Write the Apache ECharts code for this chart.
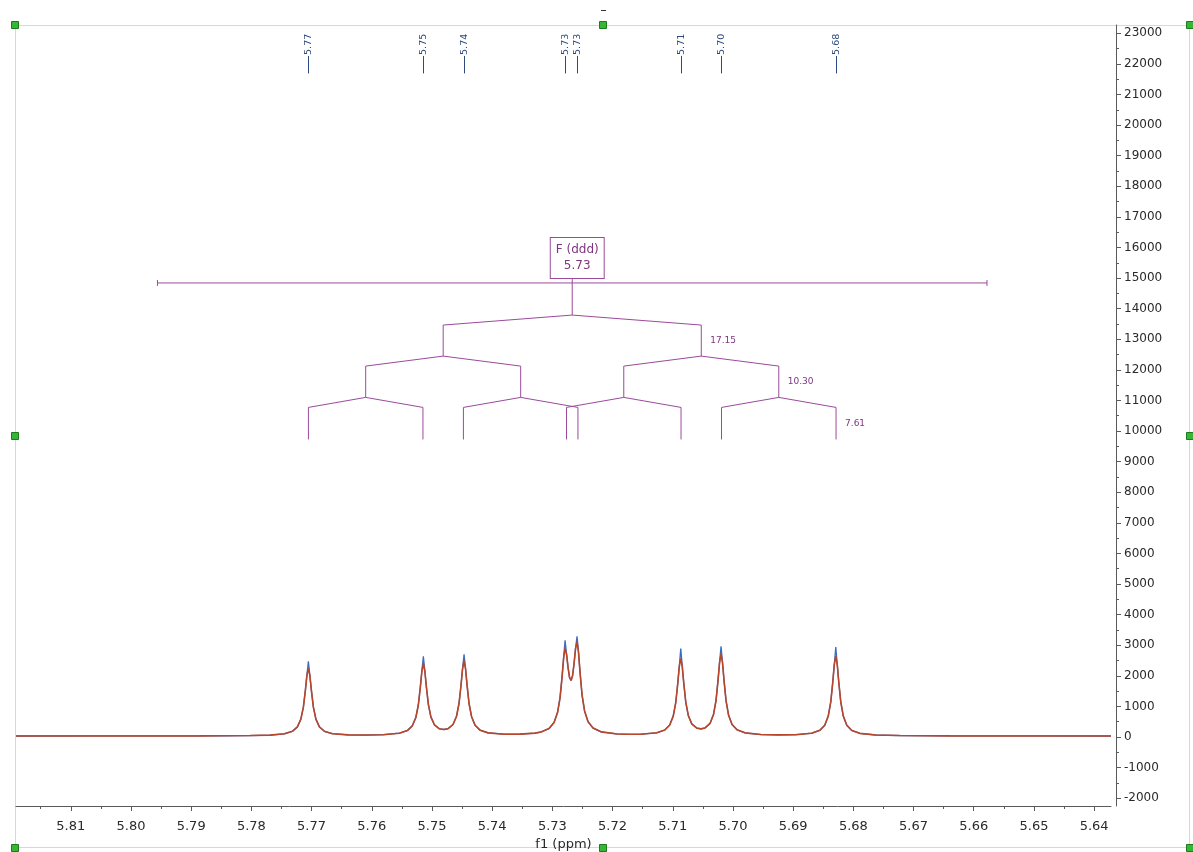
<!DOCTYPE html>
<html>
<head>
<meta charset="utf-8">
<script src="https://cdn.jsdelivr.net/npm/echarts@6/dist/echarts.min.js"></script>
<style>
html,body{margin:0;padding:0;background:#ffffff;}
#chart{width:1193px;height:852px;}
</style>
</head>
<body>
<div id="chart"></div>
<script>
// ---------------- DATA ----------------
// chemical shift of each sample point (ppm, descending)
const ppm = [
  5.8191, 5.80513, 5.79683, 5.78852, 5.78520, 5.78022, 5.77689,
  5.77452, 5.77319, 5.77236, 5.77178, 5.77136, 5.77103, 5.77078, 5.77053,
  5.77028, 5.77003, 5.76970, 5.76928, 5.76870, 5.76787, 5.76654,
  5.76389, 5.76111,
  5.75808, 5.75542, 5.75409, 5.75326, 5.75268, 5.75226, 5.75193, 5.75168, 5.75143,
  5.75118, 5.75093, 5.75060, 5.75018, 5.74960, 5.74877,
  5.74805,
  5.74733, 5.74650, 5.74592, 5.74550, 5.74517, 5.74492, 5.74467,
  5.74442, 5.74417, 5.74384, 5.74342, 5.74284, 5.74201, 5.74068, 5.73803,
  5.73537, 5.73287,
  5.73188, 5.73055, 5.72972, 5.72914, 5.72872, 5.72839, 5.72814, 5.72789,
  5.72764, 5.72739, 5.72714, 5.72689, 5.72665, 5.72640, 5.72615, 5.72590,
  5.72565, 5.72540, 5.72507, 5.72465, 5.72407, 5.72324, 5.72191, 5.71926,
  5.71709,
  5.71532, 5.71266, 5.71133, 5.71050, 5.70992, 5.70950, 5.70917, 5.70892, 5.70867,
  5.70842, 5.70817, 5.70784, 5.70742, 5.70684, 5.70601,
  5.70532,
  5.70464, 5.70381, 5.70323, 5.70281, 5.70248, 5.70223, 5.70198,
  5.70173, 5.70148, 5.70115, 5.70073, 5.70015, 5.69932, 5.69799, 5.69534,
  5.69251,
  5.68957, 5.68691, 5.68558, 5.68475, 5.68417, 5.68375, 5.68342, 5.68317, 5.68292,
  5.68267, 5.68242, 5.68209, 5.68167, 5.68109, 5.68026, 5.67893, 5.67628,
  5.67224, 5.66394, 5.65065, 5.6372
];
// fitted (red-brown) trace intensity
const fitIntensity = [
  32, 33, 33, 36, 39, 46, 62,
  104, 185, 329, 582, 974, 1520, 2004, 2243,
  2005, 1521, 975, 583, 330, 187, 107,
  69, 63,
  75, 123, 210, 365, 636, 1053, 1633, 2146, 2401,
  2149, 1641, 1067, 657, 398, 268,
  244,
  271, 408, 677, 1103, 1699, 2228, 2492,
  2228, 1696, 1094, 662, 382, 222, 134, 91,
  92, 127,
  163, 278, 472, 798, 1287, 1958, 2558, 2895,
  2703, 2265, 1941, 1847, 1998, 2385, 2887, 3113,
  2756, 2107, 1379, 850, 499, 291, 168, 99,
  87,
  91, 137, 228, 393, 682, 1127, 1747, 2294, 2567,
  2299, 1755, 1142, 704, 428, 290,
  264,
  296, 443, 735, 1199, 1848, 2423, 2706,
  2419, 1840, 1186, 714, 409, 234, 135, 80,
  68,
  75, 123, 216, 385, 683, 1146, 1790, 2360, 2641,
  2359, 1789, 1145, 682, 383, 213, 118, 65,
  46, 36, 33, 32
];
// measured spectrum (blue) intensity
const spectrumIntensity = [
  32, 33, 33, 36, 39, 46, 62,
  104, 185, 329, 582, 974, 1520, 2004, 2475,
  2005, 1521, 975, 583, 330, 187, 107,
  69, 63,
  75, 123, 210, 365, 636, 1053, 1633, 2146, 2639,
  2149, 1641, 1067, 657, 398, 268,
  244,
  271, 408, 677, 1103, 1699, 2228, 2704,
  2228, 1696, 1094, 662, 382, 222, 134, 91,
  92, 127,
  163, 278, 472, 798, 1287, 1958, 2558, 3162,
  2703, 2265, 1941, 1847, 1998, 2385, 2887, 3293,
  2756, 2107, 1379, 850, 499, 291, 168, 99,
  87,
  91, 137, 228, 393, 682, 1127, 1747, 2294, 2891,
  2299, 1755, 1142, 704, 428, 290,
  264,
  296, 443, 735, 1199, 1848, 2423, 2966,
  2419, 1840, 1186, 714, 409, 234, 135, 80,
  68,
  75, 123, 216, 385, 683, 1146, 1790, 2360, 2943,
  2359, 1789, 1145, 682, 383, 213, 118, 65,
  46, 36, 33, 32
];
// picked peaks (ppm)
const peakPpm = [5.77053, 5.75143, 5.74467, 5.72789, 5.72590, 5.70867, 5.70198, 5.68292];
// multiplet analysis
const multipletName = 'F (ddd)';
const multipletCenter = 5.7267;
const couplingsHz = [17.15, 10.30, 7.61];
const spectrometerMHz = 400;
const multipletRange = [5.7956, 5.6578];
// axis tick labels
const xTickLabels = ['5.81','5.80','5.79','5.78','5.77','5.76','5.75','5.74','5.73','5.72','5.71','5.70','5.69','5.68','5.67','5.66','5.65','5.64'];
const yTickLabels = [23000,22000,21000,20000,19000,18000,17000,16000,15000,14000,13000,12000,11000,10000,9000,8000,7000,6000,5000,4000,3000,2000,1000,0,-1000,-2000];

// ---------------- LAYOUT / STYLE ----------------
const XMIN = 5.6372, XMAX = 5.8191;
const YMIN = -2256, YMAX = 23271;
const FONT = '"DejaVu Sans", Verdana, sans-serif';
const AXIS_COLOR = '#5a5a5a';
const LABEL_COLOR = '#2a2a2a';
const TREE_COLOR = '#9b4a9b';
const TREE_TEXT = '#7e3580';
const PEAK_COLOR = '#2c4a7c';
const FIT_COLOR = '#b8462a';
const SPEC_COLOR = '#3c6cc0';

const BAR_Y = 14840;       // integration range bar
const BOX_Y = 15654;       // label box centre
const STEM_TOP = 14993;    // box bottom
const LEVELS = [
  {top: 13790, slant: 13463, bottom: 12449},
  {top: 12449, slant: 12122, bottom: 11099},
  {top: 11099, slant: 10772, bottom: 9725}
];
const PEAK_LINE_BOTTOM = 21688;
const PEAK_LINE_TOP = 22260;

const xMajor = xTickLabels.map(Number);
const xMinor = xMajor.map(v => +(v + 0.005).toFixed(3)).filter(v => v > XMIN && v < XMAX);
const yMinor = yTickLabels.slice(0, -1).map(v => v - 500);

function zip(a, b) { return a.map((v, i) => [v, b[i]]); }

// build splitting tree from couplings
function buildTree() {
  const segs = [];
  segs.push([[multipletRange[0], BAR_Y], [multipletRange[1], BAR_Y]]);
  segs.push([[multipletCenter, STEM_TOP], [multipletCenter, LEVELS[0].top]]);
  let nodes = [multipletCenter];
  const labels = [];
  couplingsHz.forEach((J, k) => {
    const L = LEVELS[k];
    const half = J / 2 / spectrometerMHz;
    const next = [];
    nodes.forEach(c => {
      [c + half, c - half].forEach(ch => {
        segs.push([[c, L.top], [ch, L.slant], [ch, L.bottom]]);
        next.push(ch);
      });
    });
    labels.push({x: Math.min.apply(null, next), y: (L.slant + L.bottom) / 2, text: J.toFixed(2)});
    nodes = next;
  });
  return {segs, labels};
}
const tree = buildTree();

const chart = echarts.init(document.getElementById('chart'), null, {renderer: 'canvas'});

const handlePts = [[15,25],[603,25],[1190,25],[15,436],[1190,436],[15,848],[603,848],[1190,848]];
const graphics = [
  {type: 'rect', z: 0, silent: true, shape: {x: 15.5, y: 25.5, width: 1174, height: 822},
   style: {fill: 'none', stroke: '#d8d8d8', lineWidth: 1}},
  {type: 'line', z: 50, silent: true, shape: {x1: 601, y1: 10.5, x2: 606, y2: 10.5},
   style: {stroke: '#333', lineWidth: 1}}
].concat(handlePts.map(p => ({
  type: 'rect', z: 60, silent: true,
  shape: {x: p[0] - 3.5, y: p[1] - 3.5, width: 7, height: 7},
  style: {fill: '#35b735', stroke: '#1f7a1f', lineWidth: 1}
})));

const option = {
  animation: false,
  backgroundColor: '#ffffff',
  textStyle: {fontFamily: FONT},
  grid: {left: 16, right: 82, top: 25, bottom: 46, containLabel: false, outerBoundsMode: 'none'},
  graphic: graphics,
  xAxis: [
    {
      type: 'value', min: XMIN, max: XMAX, inverse: true, position: 'bottom',
      name: 'f1 (ppm)', nameLocation: 'middle', nameGap: 24,
      nameTextStyle: {fontSize: 13, color: LABEL_COLOR, fontFamily: FONT},
      axisLine: {show: true, onZero: false, lineStyle: {color: AXIS_COLOR, width: 1}},
      axisTick: {show: true, customValues: xMajor, length: 5, lineStyle: {color: AXIS_COLOR}},
      axisLabel: {show: true, customValues: xMajor, formatter: v => v.toFixed(2),
        fontSize: 13, color: LABEL_COLOR, fontFamily: FONT, margin: 14},
      splitLine: {show: false}
    },
    {
      type: 'value', min: XMIN, max: XMAX, inverse: true, position: 'bottom',
      axisLine: {show: false, onZero: false},
      axisTick: {show: true, customValues: xMinor, length: 3, lineStyle: {color: AXIS_COLOR}},
      axisLabel: {show: false},
      splitLine: {show: false}
    }
  ],
  yAxis: [
    {
      type: 'value', min: YMIN, max: YMAX, position: 'right', offset: 5,
      axisLine: {show: true, onZero: false, lineStyle: {color: AXIS_COLOR, width: 1}},
      axisTick: {show: true, customValues: yTickLabels, length: 5, lineStyle: {color: AXIS_COLOR}},
      axisLabel: {show: true, customValues: yTickLabels, formatter: v => String(Math.round(v)),
        fontSize: 12, color: LABEL_COLOR, fontFamily: FONT, margin: 8},
      splitLine: {show: false}
    },
    {
      type: 'value', min: YMIN, max: YMAX, position: 'right', offset: 5,
      axisLine: {show: false, onZero: false},
      axisTick: {show: true, customValues: yMinor, length: 3, lineStyle: {color: AXIS_COLOR}},
      axisLabel: {show: false},
      splitLine: {show: false}
    }
  ],
  series: [
    {
      name: 'spectrum', type: 'line', xAxisIndex: 0, yAxisIndex: 0,
      data: zip(ppm, spectrumIntensity), showSymbol: false, symbol: 'none',
      lineStyle: {color: SPEC_COLOR, width: 1.3}, z: 2, silent: true, clip: true
    },
    {
      name: 'fit', type: 'line', xAxisIndex: 0, yAxisIndex: 0,
      data: zip(ppm, fitIntensity), showSymbol: false, symbol: 'none',
      lineStyle: {color: FIT_COLOR, width: 1.6}, z: 3, silent: true, clip: true
    },
    {
      name: 'peaks', type: 'custom', xAxisIndex: 0, yAxisIndex: 0, silent: true, z: 4,
      data: peakPpm.map(v => [v, 0]),
      renderItem: (params, api) => {
        const x = api.value(0);
        const a = api.coord([x, PEAK_LINE_BOTTOM]);
        const b = api.coord([x, PEAK_LINE_TOP]);
        return {
          type: 'group',
          children: [
            {type: 'line', shape: {x1: Math.round(a[0]) + 0.5, y1: a[1], x2: Math.round(b[0]) + 0.5, y2: b[1]},
             style: {stroke: PEAK_COLOR, lineWidth: 1}},
            {type: 'text', x: Math.round(b[0]) + 0.5, y: b[1] - 1, rotation: Math.PI / 2,
             style: {text: x.toFixed(2), fill: PEAK_COLOR, font: '9.5px ' + FONT,
                     align: 'left', verticalAlign: 'middle'}}
          ]
        };
      }
    },
    {
      name: 'multiplet', type: 'custom', xAxisIndex: 0, yAxisIndex: 0, silent: true, z: 5,
      data: [[multipletCenter, BAR_Y]],
      renderItem: (params, api) => {
        const children = [];
        tree.segs.forEach(s => {
          children.push({type: 'polyline', shape: {points: s.map(p => api.coord(p))},
            style: {stroke: TREE_COLOR, lineWidth: 1, fill: 'none'}});
        });
        multipletRange.forEach(v => {
          const p = api.coord([v, BAR_Y]);
          children.push({type: 'line', shape: {x1: p[0], y1: p[1] - 3, x2: p[0], y2: p[1] + 3},
            style: {stroke: TREE_COLOR, lineWidth: 1}});
        });
        tree.labels.forEach(l => {
          const p = api.coord([l.x, l.y]);
          children.push({type: 'text', x: p[0] + 9, y: p[1],
            style: {text: l.text, fill: TREE_TEXT, font: '9px ' + FONT, align: 'left', verticalAlign: 'middle'}});
        });
        const bp = api.coord([multipletCenter, BOX_Y]);
        children.push({type: 'text', x: bp[0] + 5, y: bp[1],
          style: {text: multipletName + '\n' + multipletCenter.toFixed(2), fill: TREE_TEXT,
            font: '12px ' + FONT, align: 'center', verticalAlign: 'middle', lineHeight: 16,
            padding: [4, 5, 4, 5], borderColor: TREE_COLOR, borderWidth: 1, backgroundColor: '#ffffff'}});
        return {type: 'group', children};
      }
    }
  ]
};
chart.setOption(option);
</script>
</body>
</html>
